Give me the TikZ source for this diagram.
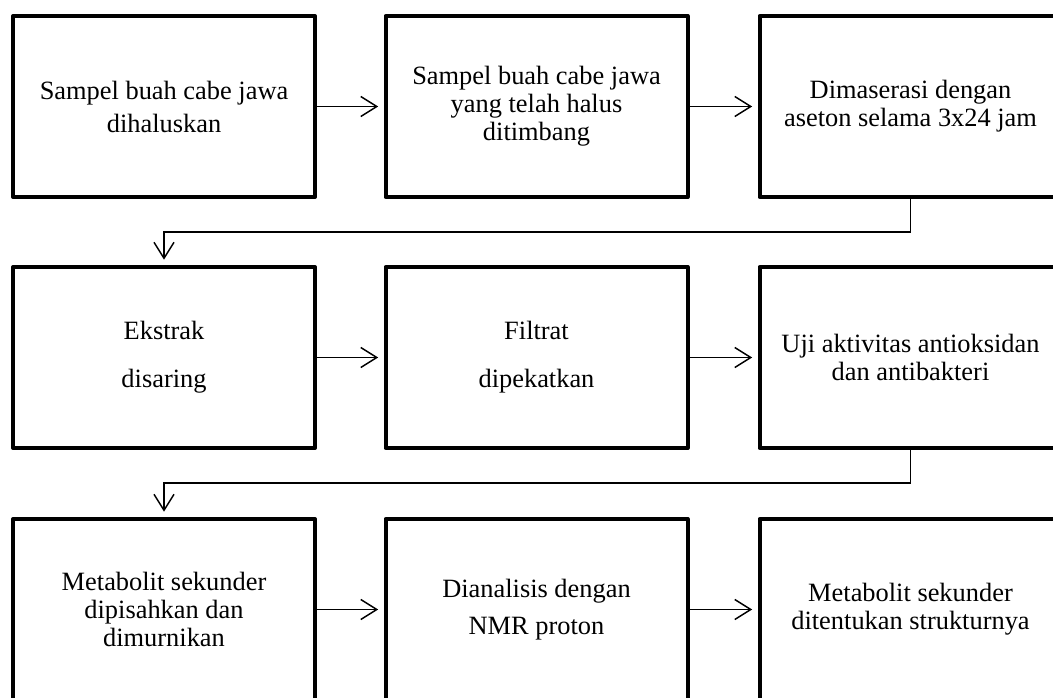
\documentclass[tikz,border=0pt]{standalone}
\usepackage{fontspec}
\setmainfont{Liberation Serif}
\usetikzlibrary{arrows.meta}
\begin{document}
\begin{tikzpicture}[x=0.75pt,y=-0.75pt,
  stepbox/.style={draw, line width=3pt, line join=round, minimum width=226.5pt, minimum height=135.75pt,
    align=center, inner sep=0pt, font=\fontsize{19.8}{21}\selectfont},
  conn/.style={line width=1.1pt, -{Straight Barb[length=12pt,width=15pt,line width=1.1pt]}, shorten >=4pt}]
\useasboundingbox (0,0) rectangle (1053,697);
% row 1
\node[stepbox] (a1) at (164,106.5) {Sampel buah cabe jawa\\[3.75pt]dihaluskan};
\node[stepbox] (a2) at (536.5,106.5) {Sampel buah cabe jawa\\yang telah halus\\ditimbang};
\node[stepbox] (a3) at (910.5,106.5) {Dimaserasi dengan\\aseton selama 3x24 jam};
% row 2
\node[stepbox] (b1) at (164,357.5) {Ekstrak\\[15pt]disaring};
\node[stepbox] (b2) at (536.5,357.5) {Filtrat\\[15pt]dipekatkan};
\node[stepbox] (b3) at (910.5,357.5) {Uji aktivitas antioksidan\\dan antibakteri};
% row 3
\node[stepbox] (c1) at (164,609.5) {Metabolit sekunder\\dipisahkan dan\\dimurnikan};
\node[stepbox] (c2) at (536.5,609.5) {Dianalisis dengan\\[6.75pt]NMR proton};
\node[stepbox] (c3) at (910.5,609.5) {Metabolit sekunder\\ditentukan strukturnya};
% connector levels
\coordinate (m1) at (0,232);
\coordinate (m2) at (0,483);
% connectors
\draw[conn] (a1) -- (a2);
\draw[conn] (a2) -- (a3);
\draw[conn] (b1) -- (b2);
\draw[conn] (b2) -- (b3);
\draw[conn] (c1) -- (c2);
\draw[conn] (c2) -- (c3);
\draw[conn] (a3.south) -- (a3.south |- m1) -| (b1.north);
\draw[conn] (b3.south) -- (b3.south |- m2) -| (c1.north);
\end{tikzpicture}
\end{document}
